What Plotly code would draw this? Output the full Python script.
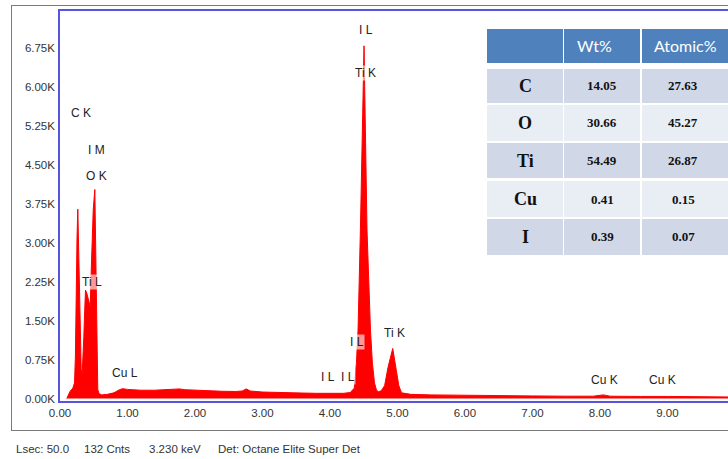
import plotly.graph_objects as go

# EDS spectrum: energy (keV) and counts
energy_kev = [0.10, 0.12, 0.15, 0.19, 0.215, 0.228, 0.240, 0.252, 0.264, 0.276,
              0.289, 0.302, 0.314, 0.329, 0.342, 0.353, 0.366, 0.378, 0.397, 0.427,
              0.448, 0.463, 0.480, 0.492, 0.516, 0.531, 0.546, 0.560, 0.58, 0.62,
              0.70, 0.80, 0.88, 0.93, 1.00, 1.10, 1.20, 1.40, 1.60, 1.77,
              1.85, 2.00, 2.20, 2.40, 2.60, 2.70, 2.76, 2.82, 3.00, 3.20,
              3.40, 3.60, 3.80, 4.00, 4.20, 4.30, 4.36, 4.392, 4.416, 4.451,
              4.475, 4.505, 4.525, 4.549, 4.600, 4.629, 4.66, 4.69, 4.72, 4.76,
              4.81, 4.86, 4.93, 4.98, 5.02, 5.06, 5.20, 5.50, 6.00, 6.50,
              7.00, 7.50, 7.90, 8.05, 8.15, 8.60, 8.90, 9.00, 9.50, 9.90]
counts = [0, 70, 140, 200, 300, 800, 2200, 3100, 3650, 2900,
          1850, 1000, 560, 480, 800, 1190, 1700, 2090, 2030, 1870,
          1770, 2480, 3100, 3630, 4030, 2480, 880, 170, 90, 70,
          80, 110, 170, 190, 175, 165, 160, 160, 170, 185,
          170, 160, 150, 140, 135, 145, 185, 145, 125, 115,
          110, 105, 100, 95, 100, 115, 200, 680, 1320, 3250,
          5180, 6800, 5180, 3250, 1320, 680, 300, 160, 130, 150,
          250, 600, 965, 600, 250, 110, 80, 70, 60, 55,
          50, 45, 45, 70, 45, 40, 45, 40, 35, 30]

x_tick_vals = [0, 1, 2, 3, 4, 5, 6, 7, 8, 9]
x_tick_text = ["0.00", "1.00", "2.00", "3.00", "4.00", "5.00", "6.00", "7.00", "8.00", "9.00"]
y_tick_vals = [0, 750, 1500, 2250, 3000, 3750, 4500, 5250, 6000, 6750]
y_tick_text = ["0.00K", "0.75K", "1.50K", "2.25K", "3.00K", "3.75K", "4.50K", "5.25K", "6.00K", "6.75K"]

# Peak identification labels (text, energy in keV, height in counts)
peak_label_text = ["C K", "I M", "O K", "Ti L", "Cu L", "I L", "Ti K", "I L", "I L", "I L", "Ti K", "Cu K", "Cu K"]
peak_label_kev = [0.304, 0.541, 0.541, 0.467, 0.956, 4.530, 4.530, 4.397, 3.967, 4.263, 4.960, 8.074, 8.934]
peak_label_counts = [5504, 4791, 4290, 2246, 492, 7104, 6275, 1089, 415, 415, 1263, 357, 357]

# Quantification table
table_header = ["", "Wt%", "Atomic%"]
elements = ["C", "O", "Ti", "Cu", "I"]
wt_pct = ["14.05", "30.66", "54.49", "0.41", "0.39"]
atomic_pct = ["27.63", "45.27", "26.87", "0.15", "0.07"]

status_items = ["Lsec: 50.0", "132 Cnts", "3.230 keV", "Det: Octane Elite Super Det"]

W, H = 728, 459
# outer window frame (pixels) and spectrum plot box inside it
FRAME_L, FRAME_R, FRAME_T, FRAME_B = 12, 728, 6, 430
SPEC_L, SPEC_T, SPEC_B = 60, 11, 401


def xp(px):
    return (px - FRAME_L) / (FRAME_R - FRAME_L)


def yp(py):
    return (FRAME_B - py) / (FRAME_B - FRAME_T)


AXIS_FONT = "Liberation Sans, Arial, sans-serif"
TEXT_COLOR = "#333333"
BLUE = "#5555dd"
FRAME = "#7a7a7a"

fig = go.Figure()
fig.add_trace(go.Scatter(
    x=energy_kev, y=counts, mode="lines", fill="tozeroy",
    fillcolor="#ff0000", line=dict(color="#ff0000", width=1),
    hoverinfo="skip", showlegend=False, xaxis="x", yaxis="y",
))
# placeholder on the frame axes so they are laid out
fig.add_trace(go.Scatter(x=[None], y=[None], xaxis="x2", yaxis="y2",
                         hoverinfo="skip", showlegend=False))

shapes = []
annotations = []

# peak labels
for txt, e, c in zip(peak_label_text, peak_label_kev, peak_label_counts):
    annotations.append(dict(x=e, y=c, xref="x", yref="y", text=txt, showarrow=False,
                            font=dict(family=AXIS_FONT, size=12, color="#222222"),
                            bgcolor="rgba(255,255,255,0.6)", borderpad=0,
                            xanchor="center", yanchor="middle"))

# table geometry (pixels)
col_edges = [(487, 563), (564, 640), (642, 740)]
header_span = (29, 63)
row_spans = [(69, 103), (105, 141), (143, 178), (181, 217), (219, 255)]
HEADER_BLUE = "#4f81bd"
BAND1 = "#d0d8e8"
BAND2 = "#e9edf4"

for (cx0, cx1) in col_edges:
    shapes.append(dict(type="rect", xref="paper", yref="paper",
                       x0=xp(cx0), x1=xp(cx1), y0=yp(header_span[1]), y1=yp(header_span[0]),
                       line=dict(width=0), fillcolor=HEADER_BLUE, layer="above"))
for i, (ry0, ry1) in enumerate(row_spans):
    for (cx0, cx1) in col_edges:
        shapes.append(dict(type="rect", xref="paper", yref="paper",
                           x0=xp(cx0), x1=xp(cx1), y0=yp(ry1), y1=yp(ry0),
                           line=dict(width=0), fillcolor=BAND1 if i % 2 == 0 else BAND2, layer="above"))

header_left = [None, 575, 652]
for txt, left in zip(table_header, header_left):
    if txt:
        annotations.append(dict(x=xp(left), y=yp(sum(header_span) / 2), xref="paper", yref="paper",
                                text=txt, showarrow=False, xanchor="left", yanchor="middle",
                                font=dict(family="Lato, Open Sans, sans-serif", size=16, color="white")))

col_centers = [525, 602, 683]
for i, (ry0, ry1) in enumerate(row_spans):
    yc = yp((ry0 + ry1) / 2)
    cells = [(elements[i], 18), (wt_pct[i], 13), (atomic_pct[i], 13)]
    for (txt, size), cx in zip(cells, col_centers):
        annotations.append(dict(x=xp(cx), y=yc, xref="paper", yref="paper",
                                text="<b>%s</b>" % txt, showarrow=False,
                                xanchor="center", yanchor="middle",
                                font=dict(family="Liberation Serif, serif", size=size, color="#111111")))

# status bar below the window
status_left = [14, 82, 147, 216]
for txt, left in zip(status_items, status_left):
    annotations.append(dict(x=xp(left), y=yp(449), xref="paper", yref="paper", text=txt,
                            showarrow=False, xanchor="left", yanchor="middle",
                            font=dict(family=AXIS_FONT, size=11.5, color=TEXT_COLOR)))

fig.update_layout(
    width=W, height=H,
    margin=dict(l=FRAME_L, r=W - FRAME_R, t=FRAME_T, b=H - FRAME_B, pad=0),
    paper_bgcolor="white", plot_bgcolor="rgba(0,0,0,0)",
    showlegend=False,
    shapes=shapes, annotations=annotations,
    xaxis=dict(domain=[xp(SPEC_L), 1], anchor="y",
               range=[0, (FRAME_R - 60.5) / 67.44], tickvals=x_tick_vals, ticktext=x_tick_text,
               showgrid=False, zeroline=False, ticks="", showline=True, mirror=True,
               linecolor=BLUE, linewidth=1.5,
               tickfont=dict(family=AXIS_FONT, size=11.5, color=TEXT_COLOR)),
    yaxis=dict(domain=[yp(SPEC_B), yp(SPEC_T)], anchor="x",
               range=[-48, 7471], tickvals=y_tick_vals, ticktext=y_tick_text,
               showgrid=False, zeroline=False, ticks="", showline=True,
               linecolor=BLUE, linewidth=1.5, ticklabelstandoff=1,
               tickfont=dict(family=AXIS_FONT, size=11.5, color=TEXT_COLOR)),
    xaxis2=dict(domain=[0, 1], anchor="y2", range=[0, 1], showgrid=False, zeroline=False,
                showticklabels=False, ticks="", showline=True, mirror=True,
                linecolor=FRAME, linewidth=1),
    yaxis2=dict(domain=[0, 1], anchor="x2", range=[0, 1], showgrid=False, zeroline=False,
                showticklabels=False, ticks="", showline=True, mirror=False,
                linecolor=FRAME, linewidth=1),
)

fig.write_html("out.html")
